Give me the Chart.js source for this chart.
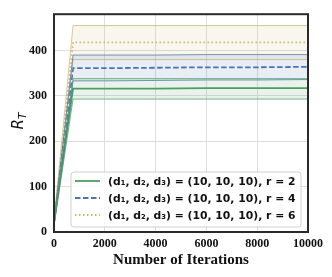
<!DOCTYPE html>
<html>
<head>
<meta charset="utf-8">
<script src="https://cdn.jsdelivr.net/npm/chart.js@4"></script>
<style>
  body { margin: 0; background: #fff; }
  #wrap { width: 332px; height: 277px; }
</style>
</head>
<body>
<div id="wrap"><canvas id="myChart" width="332" height="277"></canvas></div>
<script>
// iterations where the curves were sampled
var iteracoes = [0, 750, 2000, 4000, 6000, 8000, 10000];

// r = 2
var media_r2 = [20, 316, 316, 316, 317, 317, 317];
var sup_r2 = [25, 338, 338, 338, 338, 338, 338];
var inf_r2 = [15, 293, 293, 293, 293, 293, 293];
// r = 4
var media_r4 = [20, 361, 361, 362, 363, 363, 364];
var sup_r4 = [25, 390, 390, 390, 391, 391, 391];
var inf_r4 = [15, 333, 333, 334, 335, 335, 336];
// r = 6
var media_r6 = [20, 418, 418, 418, 418, 418, 418];
var sup_r6 = [25, 455, 455, 455, 455, 455, 455];
var inf_r6 = [15, 380, 380, 380, 380, 380, 380];

var legendas = ['(d\u2081, d\u2082, d\u2083) = (10, 10, 10), r = 2',
                '(d\u2081, d\u2082, d\u2083) = (10, 10, 10), r = 4',
                '(d\u2081, d\u2082, d\u2083) = (10, 10, 10), r = 6'];
var y_ticks = [0, 100, 200, 300, 400];

var verde = '76,158,97';
var azul = '76,114,176';
var amarelo = '204,185,116';

Chart.defaults.font.family = 'Liberation Serif';

function pontos(vals) {
  return vals.map(function (v, i) { return { x: iteracoes[i], y: v }; });
}

function banda(sup, inf, cor) {
  return [{
    data: pontos(sup),
    borderColor: 'rgba(' + cor + ',0.75)',
    borderWidth: 1,
    backgroundColor: 'rgba(' + cor + ',0.12)',
    pointRadius: 0,
    fill: '+1'
  }, {
    data: pontos(inf),
    borderColor: 'rgba(' + cor + ',0.75)',
    borderWidth: 1,
    pointRadius: 0,
    fill: false
  }];
}

var estilos = [
  { cor: verde, dash: [] },
  { cor: azul, dash: [5.5, 2.5] },
  { cor: amarelo, dash: [1.5, 2.5] }
];

var datasets = []
  .concat(banda(sup_r2, inf_r2, verde))
  .concat(banda(sup_r4, inf_r4, azul))
  .concat(banda(sup_r6, inf_r6, amarelo));

[media_r2, media_r4, media_r6].forEach(function (m, i) {
  datasets.push({
    data: pontos(m),
    borderColor: 'rgb(' + estilos[i].cor + ')',
    borderDash: estilos[i].dash,
    borderWidth: 1.8,
    pointRadius: 0,
    fill: false
  });
});

// frame, y title with subscript, legend
var extras = {
  id: 'extras',
  afterDraw: function (chart) {
    var c = chart.ctx;
    var a = chart.chartArea;
    c.save();
    c.strokeStyle = '#2a2a2a';
    c.lineWidth = 2;
    c.strokeRect(a.left, a.top, a.right - a.left, a.bottom - a.top);

    // y title R_T
    c.translate(23, 121);
    c.rotate(-Math.PI / 2);
    c.fillStyle = '#111';
    c.textBaseline = 'alphabetic';
    c.textAlign = 'left';
    c.font = 'italic 15px "DejaVu Sans"';
    var wR = c.measureText('R').width;
    c.font = 'italic 11px "DejaVu Sans"';
    var wT = c.measureText('T').width;
    var x0 = -(wR + wT) / 2;
    c.font = 'italic 15px "DejaVu Sans"';
    c.fillText('R', x0, 0);
    c.font = 'italic 11px "DejaVu Sans"';
    c.fillText('T', x0 + wR, 3);
    c.restore();

    // legend
    c.save();
    var bx = 71, by = 172, bw = 230, bh = 55;
    c.beginPath();
    c.roundRect(bx, by, bw, bh, 3);
    c.fillStyle = 'rgba(255,255,255,0.85)';
    c.fill();
    c.strokeStyle = '#d0d0d0';
    c.lineWidth = 1;
    c.stroke();
    var linhas = [181, 198, 215];
    c.font = 'bold 10.8px "DejaVu Sans"';
    c.textBaseline = 'middle';
    c.textAlign = 'left';
    for (var i = 0; i < 3; i++) {
      c.beginPath();
      c.setLineDash(estilos[i].dash);
      c.strokeStyle = 'rgb(' + estilos[i].cor + ')';
      c.lineWidth = 1.8;
      c.moveTo(75, linhas[i]);
      c.lineTo(100, linhas[i]);
      c.stroke();
      c.setLineDash([]);
      c.fillStyle = '#111';
      c.fillText(legendas[i], 108, linhas[i] + 1);
    }
    c.restore();
  }
};

var fonte_ticks = { family: 'Liberation Serif', weight: 'bold', size: 12 };

var ctx = document.getElementById('myChart');
var grafico = new Chart(ctx, {
  type: 'line',
  data: { datasets: datasets },
  options: {
    responsive: false,
    animation: false,
    devicePixelRatio: 1,
    layout: { padding: { top: 10, right: 24, left: 0, bottom: 0 } },
    plugins: {
      legend: { display: false },
      tooltip: { enabled: false },
      filler: { propagate: false }
    },
    scales: {
      x: {
        type: 'linear',
        min: 0,
        max: 10000,
        ticks: {
          stepSize: 2000,
          padding: 5,
          color: '#111',
          maxRotation: 0,
          font: fonte_ticks,
          callback: function (v) { return String(v); }
        },
        grid: { color: '#dedede', drawTicks: false },
        border: { display: false },
        title: {
          display: true,
          text: 'Number of Iterations',
          color: '#111',
          padding: { top: 0, bottom: 8 },
          font: { family: 'Liberation Serif', weight: 'bold', size: 15 }
        },
        afterFit: function (s) { s.height = 45; }
      },
      y: {
        min: 0,
        max: 480,
        ticks: {
          stepSize: 100,
          padding: 7,
          color: '#111',
          font: fonte_ticks
        },
        afterBuildTicks: function (s) {
          s.ticks = y_ticks.map(function (v) { return { value: v }; });
        },
        grid: { color: '#dedede', drawTicks: false },
        border: { display: false },
        afterFit: function (s) { s.width = 54; }
      }
    }
  },
  plugins: [extras]
});
</script>
</body>
</html>
